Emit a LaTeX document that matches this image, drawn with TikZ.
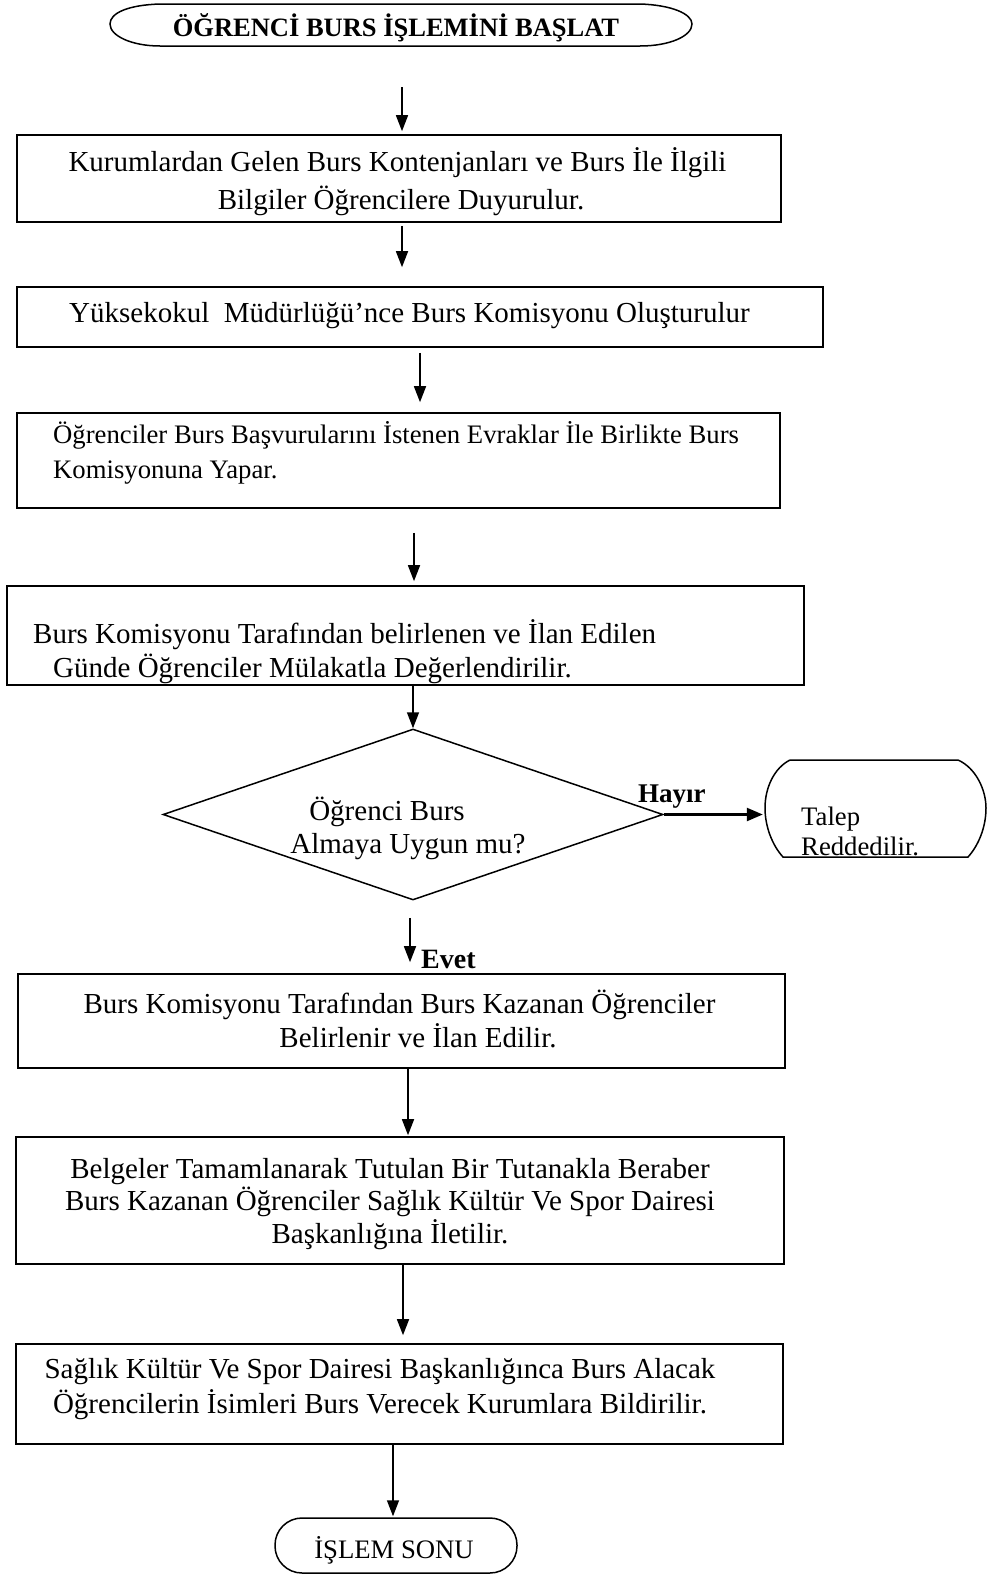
\documentclass[tikz,border=0pt]{standalone}
\usepackage{fontspec}
\setmainfont{Liberation Serif}
\usetikzlibrary{arrows.meta,calc,shapes.geometric}

\newcommand\txtmain{\fontsize{29}{34}\selectfont}
\newcommand\txtsmall{\fontsize{26.7}{32}\selectfont}
\newcommand\txtbold{\fontsize{26.5}{32}\selectfont\bfseries}

\tikzset{
  stepbox/.style={draw, line width=1.6pt, rectangle, inner sep=0pt},
  shapeonly/.style={draw=none, inner sep=0pt},
  linetext/.style={inner sep=0pt, anchor=base, font=\txtmain},
  linetextw/.style={inner sep=0pt, anchor=base west, font=\txtmain},
  flow/.style={line width=1.5pt, -{Triangle[length=16pt,width=12pt]}},
  outline/.style={line width=1.5pt},
}

\begin{document}
\begin{tikzpicture}[x=1pt,y=-1pt]
\useasboundingbox (0,0) rectangle (987,1575);

% start terminal
\node[shapeonly, minimum width=582, minimum height=42] (start) at (401,25) {};
\draw[outline] (160,4) -- (640,4)
  .. controls (672,5) and (692,14) .. (692,24)
  .. controls (692,36) and (670,46) .. (640,46) -- (160,46)
  .. controls (132,46) and (110,36) .. (110,24)
  .. controls (110,13) and (128,5) .. (160,4);
\node[inner sep=0pt, anchor=base, font=\txtbold] (tstart) at (396,36) {ÖĞRENCİ BURS İŞLEMİNİ BAŞLAT};

% process boxes
\node[stepbox, minimum width=764, minimum height=87]  (b1) at (399,178.5) {};
\node[stepbox, minimum width=806, minimum height=60]  (b2) at (420,317) {};
\node[stepbox, minimum width=763, minimum height=95]  (b3) at (398.5,460.5) {};
\node[stepbox, minimum width=797, minimum height=99]  (b4) at (405.5,635.5) {};
\node[stepbox, minimum width=767, minimum height=94]  (b5) at (401.5,1021) {};
\node[stepbox, minimum width=768, minimum height=127] (b6) at (400,1200.5) {};
\node[stepbox, minimum width=767, minimum height=100] (b7) at (399.5,1394) {};

% decision
\node[draw, diamond, line width=1.5pt, inner sep=0pt, minimum width=500, minimum height=171] (dec) at (413,814.5) {};

% rejection terminal
\node[shapeonly, minimum width=221, minimum height=97] (talep) at (875.5,808.5) {};
\draw[outline] (790,760) -- (958,760)
  .. controls (976,768) and (986,790) .. (986,808)
  .. controls (986,828) and (978,846) .. (968,857) -- (783,857)
  .. controls (772,845) and (765,826) .. (765,808)
  .. controls (765,788) and (774,768) .. (790,760);

% end terminal
\node[draw, line width=1.5pt, rounded corners=27pt, minimum width=242, minimum height=55, inner sep=0pt] (endt) at (396,1545.5) {};

% texts
\node[linetext] (t1a) at (397.5,171) {Kurumlardan Gelen Burs Kontenjanları ve Burs İle İlgili};
\node[linetext] (t1b) at (401,209) {Bilgiler Öğrencilere Duyurulur.};
\node[linetext] (t2a) at (409.5,322) {Yüksekokul\ \ Müdürlüğü’nce Burs Komisyonu Oluşturulur};
\node[linetextw, font=\txtsmall] (t3a) at (53,443) {Öğrenciler Burs Başvurularını İstenen Evraklar İle Birlikte Burs};
\node[linetextw, font=\txtsmall] (t3b) at (53,478) {Komisyonuna Yapar.};
\node[linetextw] (t4a) at (33,643) {Burs Komisyonu Tarafından belirlenen ve İlan Edilen};
\node[linetextw] (t4b) at (53,677) {Günde Öğrenciler Mülakatla Değerlendirilir.};
\node[linetext] (tda) at (387,820) {Öğrenci Burs};
\node[linetext] (tdb) at (408,853) {Almaya Uygun mu?};
\node[linetextw, font=\fontsize{27}{32}\selectfont\bfseries] (thayir) at (638,802) {Hayır};
\node[linetextw, font=\txtsmall] (tta) at (801,825) {Talep};
\node[linetextw, font=\txtsmall] (ttb) at (801,855) {Reddedilir.};
\node[linetextw, font=\fontsize{28}{32}\selectfont\bfseries] (tevet) at (421,968) {Evet};
\node[linetext] (t5a) at (399.5,1013) {Burs Komisyonu Tarafından Burs Kazanan Öğrenciler};
\node[linetext] (t5b) at (418,1047) {Belirlenir ve İlan Edilir.};
\node[linetext] (t6a) at (390,1178) {Belgeler Tamamlanarak Tutulan Bir Tutanakla Beraber};
\node[linetext] (t6b) at (390,1210) {Burs Kazanan Öğrenciler Sağlık Kültür Ve Spor Dairesi};
\node[linetext] (t6c) at (390,1243) {Başkanlığına İletilir.};
\node[linetext] (t7a) at (380,1378) {Sağlık Kültür Ve Spor Dairesi Başkanlığınca Burs Alacak};
\node[linetext] (t7b) at (380,1413) {Öğrencilerin İsimleri Burs Verecek Kurumlara Bildirilir.};
\node[linetext, font=\txtsmall] (tend) at (394,1558) {İŞLEM SONU};

% connectors
\draw[flow] ($(start.south)+(1,41)$) -- ($(b1.north)+(3,-3)$);
\draw[flow] ($(b1.south)+(3,3)$) -- ($(b2.north)+(-18,-19)$);
\draw[flow] ($(b2.south)+(0,5)$) -- ($(b3.north)+(21.5,-10)$);
\draw[flow] ($(b3.south)+(15.5,24)$) -- ($(b4.north)+(8.5,-4)$);
\draw[flow] ($(b4.south)+(7.5,-2)$) -- (dec.north);
\draw[line width=2.4pt, -{Triangle[length=16pt,width=13pt]}] (dec.east) -- ($(dec.east -| talep.west)+(-2,0)$);
\draw[flow] ($(dec.south)+(-3,17)$) -- ($(b5.north)+(8.5,-11)$);
\draw[flow] ($(b5.south)+(6.5,0)$) -- ($(b6.north)+(8,-1)$);
\draw[flow] ($(b6.south)+(3,0)$) -- ($(b7.north)+(3.5,-8)$);
\draw[flow] ($(b7.south)+(-6.5,0)$) -- ($(endt.north)+(-3,-1)$);
\end{tikzpicture}
\end{document}
